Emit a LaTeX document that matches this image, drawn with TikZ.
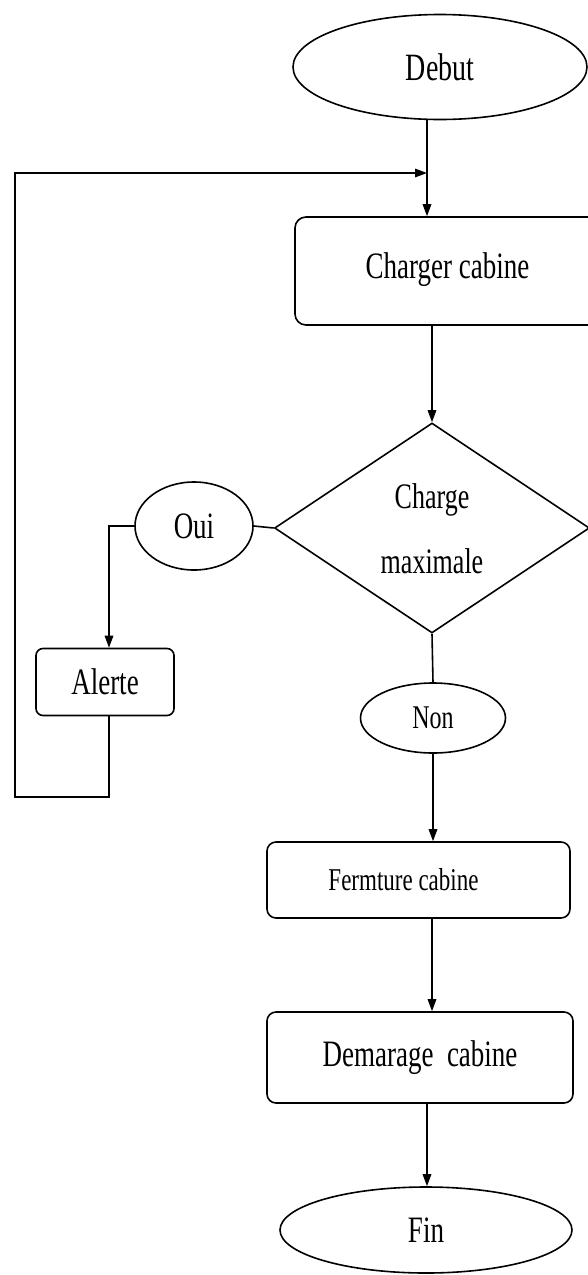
\documentclass[tikz,border=0pt]{standalone}
\usepackage{fontspec}
\setmainfont{Liberation Serif}
\usetikzlibrary{shapes.geometric,arrows.meta}
\newcommand{\tx}[2][27]{\scalebox{1}[1.38]{\fontsize{#1}{#1}\selectfont #2}}
\begin{document}
\begin{tikzpicture}[x=1pt,y=-1pt,
  line width=1.6pt,
  arr/.style={-{Triangle[length=12pt,width=8.5pt]}},
  box/.style={draw, rounded corners=9pt, inner sep=0pt},
  oval/.style={draw, ellipse, inner sep=0pt},
  decision/.style={draw, diamond, shape aspect=1.5, inner sep=0pt}]
\useasboundingbox (0,0) rectangle (587,1275);
\node[oval, minimum width=294pt, minimum height=105pt] (debut) at (440,67) {\tx[28]{Debut}};
\node[box, rounded corners=11pt, minimum width=305pt, minimum height=108pt] (charger) at (447.5,271) {\raisebox{11pt}{\tx{Charger cabine}}};
\node[decision, minimum width=315pt, minimum height=210pt] (dec) at (432,528)
  {\scalebox{1}[1.38]{\fontsize{26}{47}\selectfont\begin{tabular}{@{}c@{}}Charge\\maximale\end{tabular}}};
\node[oval, minimum width=118pt, minimum height=88pt] (oui) at (194,526) {\tx{Oui}};
\node[box, rounded corners=7pt, minimum width=138pt, minimum height=67pt] (alerte) at (105,682) {\tx{Alerte}};
\node[oval, minimum width=145pt, minimum height=70pt] (non) at (433,718) {\tx[24]{Non}};
\node[box, minimum width=303pt, minimum height=76pt] (ferm) at (418.5,880) {\hspace*{-30pt}\tx[23]{Fermture cabine}};
\node[box, minimum width=306pt, minimum height=91pt] (dem) at (420,1057.5) {\raisebox{7pt}{\tx{Demarage\ \ cabine}}};
\node[oval, minimum width=292pt, minimum height=86pt] (fin) at (426,1230) {\tx{Fin}};
\coordinate (join) at (427,173);
\coordinate (fb) at (15,797);
\draw[arr] ([xshift=-13pt]debut.south) -- ([xshift=-13pt]debut.south |- charger.north);
\draw[arr] (dec.north |- charger.south) -- (dec.north);
\draw (oui.east) -- (dec.west);
\draw[arr] (oui.west) -| ([xshift=4pt]alerte.north);
\draw[arr] ([xshift=4pt]alerte.south) |- (fb) |- (join);
\draw (dec.south) -- (non.north);
\draw[arr] (non.south) -- (non.south |- ferm.north);
\draw[arr] ([xshift=13.5pt]ferm.south) -- ([xshift=13.5pt]ferm.south |- dem.north);
\draw[arr] ([xshift=7pt]dem.south) -- ([xshift=7pt]dem.south |- fin.north);
\end{tikzpicture}
\end{document}
